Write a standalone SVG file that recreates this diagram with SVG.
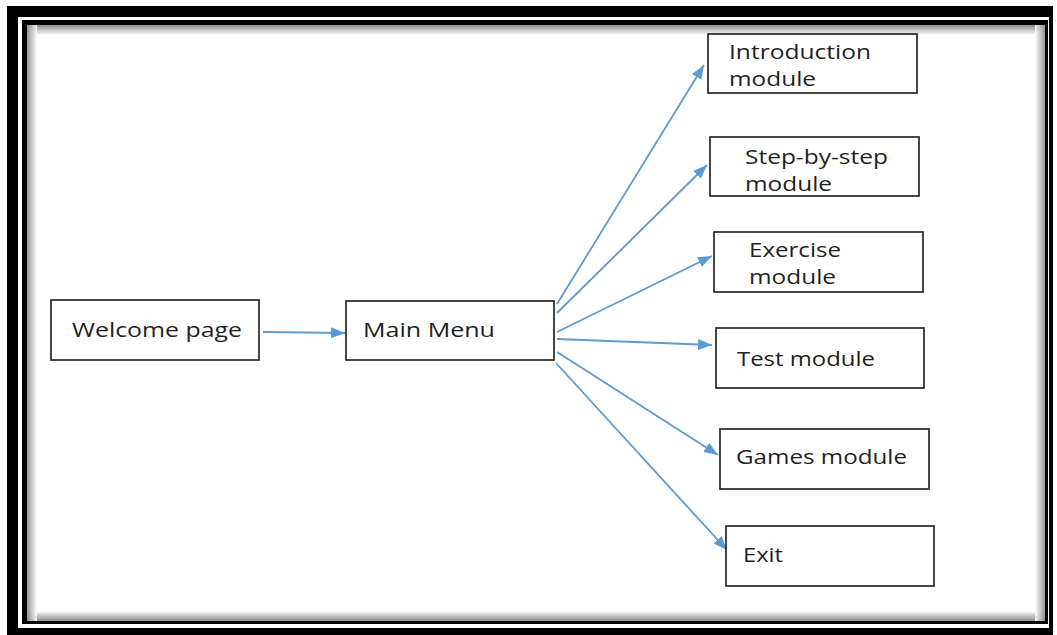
<svg xmlns="http://www.w3.org/2000/svg" width="1057" height="635" viewBox="0 0 1057 635">
<style>
.box{fill:#fff;stroke:#262626;stroke-width:1.7}
.lbl{font-family:"Open Sans","DejaVu Sans",sans-serif;font-size:20px;fill:#1f1f1f}
.conn{stroke:#5b9bd5;stroke-width:1.8;fill:none;marker-end:url(#ah)}
</style>
<defs>
<marker id="ah" markerUnits="userSpaceOnUse" markerWidth="15" markerHeight="12" refX="14" refY="5.5" orient="auto">
<path d="M0,0 L14,5.5 L0,11 Z" fill="#5b9bd5"/>
</marker>
<linearGradient id="gT" x1="0" y1="0" x2="0" y2="1"><stop offset="0" stop-color="#8a8a8a"/><stop offset="1" stop-color="#fff"/></linearGradient>
<linearGradient id="gB" x1="0" y1="1" x2="0" y2="0"><stop offset="0" stop-color="#8a8a8a"/><stop offset="1" stop-color="#fff"/></linearGradient>
<linearGradient id="gL" x1="0" y1="0" x2="1" y2="0"><stop offset="0" stop-color="#8a8a8a"/><stop offset="1" stop-color="#fff"/></linearGradient>
<linearGradient id="gR" x1="1" y1="0" x2="0" y2="0"><stop offset="0" stop-color="#8a8a8a"/><stop offset="1" stop-color="#fff"/></linearGradient>
</defs>
<rect x="0" y="0" width="1057" height="635" fill="#fff"/>
<g id="frame">
<rect x="7" y="6" width="1046" height="629" fill="#000"/>
<rect x="18" y="17" width="1031" height="611" fill="#fff"/>
<rect x="22" y="20" width="1026" height="604" fill="#000"/>
<rect x="27" y="25" width="1018" height="596" fill="#fff"/>
<rect x="27" y="25" width="1018" height="10" fill="url(#gT)"/>
<rect x="27" y="611" width="1018" height="10" fill="url(#gB)"/>
<rect x="27" y="25" width="10" height="596" fill="url(#gL)" opacity="0.9"/>
<rect x="1035" y="25" width="10" height="596" fill="url(#gR)" opacity="0.9"/>
</g>
<g id="connectors">
<line class="conn" x1="263" y1="332" x2="345" y2="333"/>
<line class="conn" x1="557" y1="304" x2="704" y2="65"/>
<line class="conn" x1="557" y1="313" x2="707" y2="165"/>
<line class="conn" x1="557" y1="332" x2="712" y2="256"/>
<line class="conn" x1="557" y1="339" x2="712" y2="345"/>
<line class="conn" x1="557" y1="352" x2="718" y2="455"/>
<line class="conn" x1="556" y1="363" x2="727" y2="550"/>
</g>
<g id="welcome">
<rect class="box" x="51" y="300" width="208" height="60"/>
<text class="lbl" x="72" y="337" textLength="170" lengthAdjust="spacingAndGlyphs">Welcome page</text>
</g>
<g id="mainmenu">
<rect class="box" x="346" y="301" width="208" height="59"/>
<text class="lbl" x="363" y="337" textLength="132" lengthAdjust="spacingAndGlyphs">Main Menu</text>
</g>
<g id="intro">
<rect class="box" x="708" y="34" width="209" height="59"/>
<text class="lbl" x="729" y="59" textLength="142" lengthAdjust="spacingAndGlyphs">Introduction</text>
<text class="lbl" x="729" y="86" textLength="87" lengthAdjust="spacingAndGlyphs">module</text>
</g>
<g id="step">
<rect class="box" x="710" y="137" width="209" height="59"/>
<text class="lbl" x="745" y="164" textLength="143" lengthAdjust="spacingAndGlyphs">Step-by-step</text>
<text class="lbl" x="745" y="191" textLength="87" lengthAdjust="spacingAndGlyphs">module</text>
</g>
<g id="exercise">
<rect class="box" x="714" y="232" width="209" height="60"/>
<text class="lbl" x="749" y="257" textLength="92" lengthAdjust="spacingAndGlyphs">Exercise</text>
<text class="lbl" x="749" y="284" textLength="87" lengthAdjust="spacingAndGlyphs">module</text>
</g>
<g id="test">
<rect class="box" x="716" y="328" width="208" height="60"/>
<text class="lbl" x="737" y="366" textLength="138" lengthAdjust="spacingAndGlyphs">Test module</text>
</g>
<g id="games">
<rect class="box" x="720" y="429" width="209" height="60"/>
<text class="lbl" x="736" y="464" textLength="171" lengthAdjust="spacingAndGlyphs">Games module</text>
</g>
<g id="exit">
<rect class="box" x="726" y="526" width="208" height="60"/>
<text class="lbl" x="743" y="562" textLength="40" lengthAdjust="spacingAndGlyphs">Exit</text>
</g>
</svg>
